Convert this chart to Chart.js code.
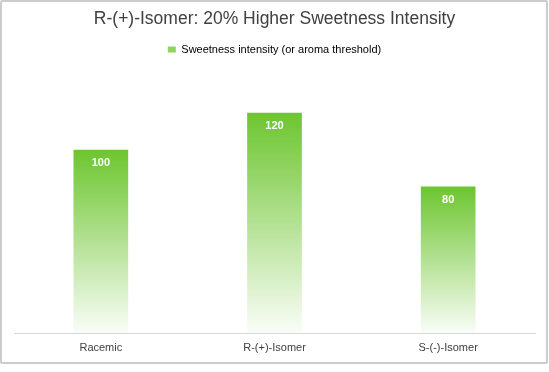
<!DOCTYPE html>
<html>
<head>
<meta charset="utf-8">
<script src="https://cdn.jsdelivr.net/npm/chart.js@4.4.0/dist/chart.umd.min.js"></script>
<style>
    body { margin: 0; background: #fff; }
    .frame {
        position: absolute; left: 0; top: 0;
        width: 548px; height: 364px;
        box-sizing: border-box;
        border: 2px solid #cccccc;
        border-radius: 2px;
    }
    canvas { position: absolute; left: 0; top: 0; }
</style>
</head>
<body>
<div class="frame"></div>
<canvas id="chart" width="549" height="372"></canvas>
<script>
        // Chart data
        const categories = ['Racemic', 'R-(+)-Isomer', 'S-(-)-Isomer'];
        const sweetness = [100, 120, 80];
        const seriesLabel = 'Sweetness intensity (or aroma threshold)';
        const chartTitle = 'R-(+)-Isomer: 20% Higher Sweetness Intensity';

        // Per-bar vertical gradient (green at top, fading out at the base)
        function barGradient(context) {
            const chart = context.chart;
            const yScale = chart.scales.y;
            if (!yScale || context.dataIndex === undefined) return '#6dc52f';
            const value = context.dataset.data[context.dataIndex];
            const top = yScale.getPixelForValue(value);
            const bottom = yScale.getPixelForValue(0);
            const g = chart.ctx.createLinearGradient(0, top, 0, bottom);
            g.addColorStop(0, 'rgba(109,197,47,1)');
            g.addColorStop(1, 'rgba(109,197,47,0.03)');
            return g;
        }

        // Value labels inside the bars
        const valueLabels = {
            id: 'valueLabels',
            afterDatasetsDraw(chart) {
                const ctx = chart.ctx;
                const meta = chart.getDatasetMeta(0);
                ctx.save();
                ctx.fillStyle = '#ffffff';
                ctx.font = 'bold 11px "Liberation Sans", Arial, sans-serif';
                ctx.textAlign = 'center';
                ctx.textBaseline = 'middle';
                meta.data.forEach((bar, i) => {
                    ctx.fillText(sweetness[i], bar.x, bar.y + 13);
                });
                ctx.restore();
            }
        };

        Chart.defaults.font.family = '"Liberation Sans", Arial, sans-serif';

        const ctx = document.getElementById('chart').getContext('2d');
        new Chart(ctx, {
            type: 'bar',
            data: {
                labels: categories,
                datasets: [{
                    label: seriesLabel,
                    data: sweetness,
                    backgroundColor: barGradient,
                    borderWidth: 0,
                    categoryPercentage: 1,
                    barPercentage: 0.315
                }]
            },
            options: {
                responsive: false,
                animation: false,
                layout: { padding: { left: 14, right: 14, top: 4, bottom: 17 } },
                plugins: {
                    title: {
                        display: true,
                        text: chartTitle,
                        color: '#404040',
                        font: { size: 17.5, weight: 'normal' },
                        padding: { top: 5, bottom: 4 }
                    },
                    legend: {
                        display: true,
                        labels: {
                            color: '#404040',
                            font: { size: 11 },
                            boxWidth: 8,
                            boxHeight: 6,
                            generateLabels: (chart) => [{
                                text: seriesLabel,
                                fillStyle: '#8fd45f',
                                strokeStyle: '#8fd45f',
                                lineWidth: 0,
                                datasetIndex: 0
                            }]
                        }
                    },
                    tooltip: { enabled: false }
                },
                scales: {
                    x: {
                        grid: { display: false },
                        border: { display: true, color: '#d9d9d9', width: 1 },
                        ticks: { color: '#404040', font: { size: 11 }, padding: 0 }
                    },
                    y: {
                        display: false,
                        min: 0,
                        max: 146
                    }
                }
            },
            plugins: [valueLabels]
        });
</script>
</body>
</html>
